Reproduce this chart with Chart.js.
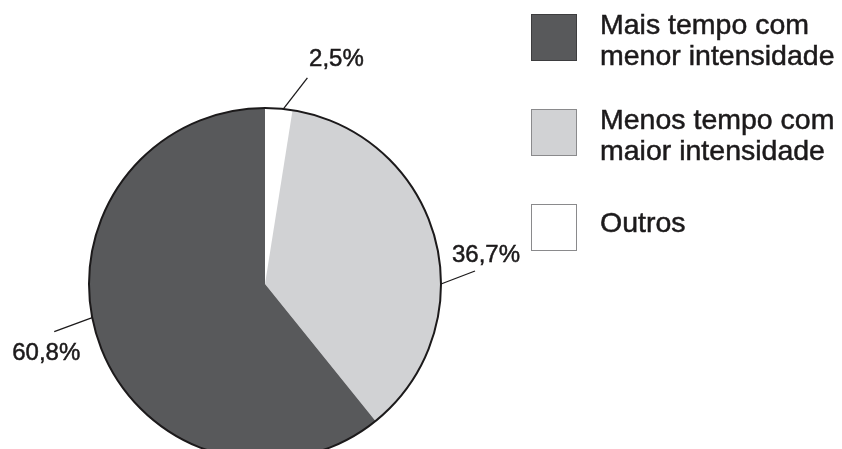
<!DOCTYPE html>
<html>
<head>
<meta charset="utf-8">
<script src="https://cdn.jsdelivr.net/npm/chart.js@4/dist/chart.umd.min.js"></script>
<style>
  html, body { margin: 0; padding: 0; background: #fff; overflow: hidden; }
  #wrap { position: relative; width: 842px; height: 480px; }
</style>
</head>
<body>
<div id="wrap"><canvas id="pizza"></canvas></div>
<script>
// fatias na ordem em que aparecem a partir do topo, sentido horário
const categorias = ['Outros', 'Menos tempo com maior intensidade', 'Mais tempo com menor intensidade'];
const valores = [2.5, 36.7, 60.8];
const rotulos = ['2,5%', '36,7%', '60,8%'];
const cores = ['#ffffff', '#d1d2d4', '#58595b'];

// legenda (de cima para baixo) e as linhas de cada item
const legendaOrdem = [2, 1, 0];
const legendaLinhas = [
  ['Outros'],
  ['Menos tempo com', 'maior intensidade'],
  ['Mais tempo com', 'menor intensidade']
];

const FONTE = '"Liberation Sans", Arial, Helvetica, sans-serif';
const TINTA = '#1c1a1b';

// texto com um traço fino por cima, para ficar um pouco mais encorpado
function textoCheio(ctx, txt, x, y) {
  ctx.fillText(txt, x, y);
  ctx.strokeText(txt, x, y);
}

// contorno externo, linhas de chamada e rótulos de porcentagem
const rotulosPlugin = {
  id: 'rotulosPizza',
  afterDatasetsDraw(chart) {
    const ctx = chart.ctx;
    const meta = chart.getDatasetMeta(0);
    const arc0 = meta.data[0];
    const cx = arc0.x, cy = arc0.y, r = arc0.outerRadius;

    ctx.save();
    ctx.beginPath();
    ctx.arc(cx, cy, r, 0, Math.PI * 2);
    ctx.lineWidth = 2;
    ctx.strokeStyle = TINTA;
    ctx.stroke();

    // ângulo (graus, a partir do topo) onde a chamada toca a borda
    const chamadas = [
      { ang: 6,   dx: 24,  dy: -31, tx: 29,  ty: -19 },
      { ang: 90,  dx: 34,  dy: -13, tx: 11,  ty: -16 },
      { ang: 259, dx: -38, dy: 14,  tx: -8,  ty: 22 }
    ];
    ctx.fillStyle = TINTA;
    ctx.font = '24px ' + FONTE;
    ctx.textAlign = 'center';
    ctx.textBaseline = 'middle';
    chamadas.forEach((c, i) => {
      const a = c.ang * Math.PI / 180;
      const x0 = cx + r * Math.sin(a);
      const y0 = cy - r * Math.cos(a);
      const x1 = x0 + c.dx, y1 = y0 + c.dy;
      ctx.lineWidth = 1.3;
      ctx.beginPath();
      ctx.moveTo(x0, y0);
      ctx.lineTo(x1, y1);
      ctx.stroke();
      ctx.lineWidth = 0.5;
      textoCheio(ctx, rotulos[i], x1 + c.tx, y1 + c.ty);
    });
    ctx.restore();
  },
  afterDraw(chart) {
    const ctx = chart.ctx;
    const ds = chart.data.datasets[0];
    ctx.save();
    ctx.font = '28.5px ' + FONTE;
    ctx.textAlign = 'left';
    ctx.textBaseline = 'alphabetic';
    legendaOrdem.forEach((idx, k) => {
      const top = 14 + k * 95;
      ctx.fillStyle = ds.backgroundColor[idx];
      ctx.fillRect(531, top, 46, 47);
      ctx.lineWidth = 1;
      ctx.strokeStyle = idx === 2 ? '#3d3d3f' : '#8a8a8c';
      ctx.strokeRect(531.5, top + 0.5, 45, 46);
      ctx.fillStyle = TINTA;
      ctx.strokeStyle = TINTA;
      ctx.lineWidth = 0.5;
      const linhas = legendaLinhas[idx];
      if (linhas.length === 1) {
        textoCheio(ctx, linhas[0], 600, top + 28);
      } else {
        textoCheio(ctx, linhas[0], 600, top + 20);
        textoCheio(ctx, linhas[1], 600, top + 51);
      }
    });
    ctx.restore();
  }
};

new Chart(document.getElementById('pizza'), {
  type: 'pie',
  data: {
    labels: categorias,
    datasets: [{
      data: valores,
      backgroundColor: cores,
      borderWidth: 0
    }]
  },
  options: {
    responsive: true,
    maintainAspectRatio: false,
    animation: false,
    layout: { padding: { left: 89, right: 401, top: 108, bottom: 20 } },
    plugins: {
      legend: { display: false },
      tooltip: { enabled: false }
    }
  },
  plugins: [rotulosPlugin]
});
</script>
</body>
</html>
